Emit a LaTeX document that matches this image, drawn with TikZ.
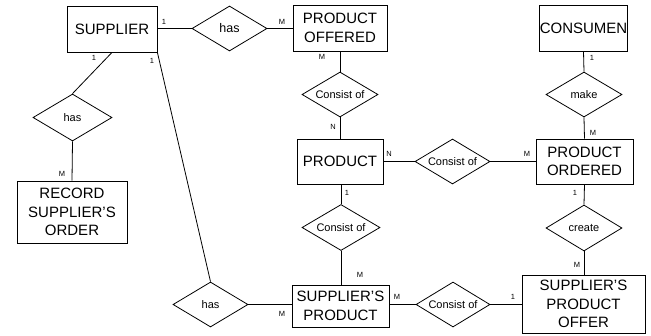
\documentclass[tikz,border=0pt]{standalone}
\usepackage{fontspec}
\setmainfont{Liberation Sans}
\usetikzlibrary{shapes.geometric}
\begin{document}
\begin{tikzpicture}[x=1pt,y=-1pt,
  line width=0.8pt,
  entity/.style={draw, rectangle, inner sep=0pt, align=center,
    font=\fontsize{15}{18.5}\selectfont},
  relation/.style={draw, diamond, inner sep=0pt, aspect=1.67,
    minimum width=76pt, minimum height=45pt,
    font=\fontsize{11}{13}\selectfont},
  card/.style={inner sep=0pt, font=\fontsize{7.5}{9}\selectfont}]
\useasboundingbox (0,0) rectangle (651,335);

% entities
\node[entity, minimum width=90pt, minimum height=46pt] (sup) at (112,29) {SUPPLIER};
\node[entity, minimum width=94pt, minimum height=46pt] (pof) at (340,28) {PRODUCT\\OFFERED};
\node[entity, minimum width=83pt, minimum height=46pt] (con) at (583.5,28) {CONSUMEN};
\node[entity, minimum width=86pt, minimum height=45pt] (prd) at (340,161.5) {PRODUCT};
\node[entity, minimum width=97pt, minimum height=45pt] (pord) at (584.5,161.5) {PRODUCT\\ORDERED};
\node[entity, minimum width=110pt, minimum height=62pt] (rec) at (72,212) {RECORD\\SUPPLIER'S\\ORDER};
\node[entity, minimum width=97pt, minimum height=42pt] (sp) at (340.5,306) {SUPPLIER'S\\PRODUCT};
\node[entity, minimum width=123pt, minimum height=58pt] (spo) at (583.5,304) {SUPPLIER'S\\PRODUCT\\OFFER};

% relationships
\node[relation, minimum width=75pt, font=\fontsize{12.5}{14}\selectfont] (hasA) at (229.5,28.5) {has};
\node[relation, minimum width=79pt, minimum height=47pt] (hasB) at (72.5,117.5) {has};
\node[relation, minimum width=75pt] (hasC) at (210.5,304.5) {has};
\node[relation] (conA) at (340,94.5) {Consist of};
\node[relation, minimum width=75pt] (conB) at (452.5,161.5) {Consist of};
\node[relation, minimum width=78pt, minimum height=46pt] (conC) at (341,227.5) {Consist of};
\node[relation, minimum width=74pt] (conD) at (453,304.5) {Consist of};
\node[relation] (make) at (584,94.5) {make};
\node[relation, minimum height=46pt] (crt) at (584,228) {create};

% connectors
\draw (sup.east |- hasA.west) -- (hasA.west);
\draw (hasA.east) -- (pof.west |- hasA.east);
\draw (sup.south) -- (hasB.north);
\draw (hasB.south) -- (rec.north);
\draw (sup.south east) -- (hasC.north);
\draw (hasC.east) -- (sp.west |- hasC.east);
\draw (pof.south) -- (conA.north);
\draw (conA.south) -- (prd.north);
\draw (prd.east |- conB.west) -- (conB.west);
\draw (conB.east) -- (pord.west |- conB.east);
\draw (con.south) -- (make.north);
\draw (make.south) -- (pord.north);
\draw (conC.north |- prd.south) -- (conC.north);
\draw (conC.south) -- (conC.south |- sp.north);
\draw (pord.south) -- (crt.north);
\draw (crt.south) -- (crt.south |- spo.north);
\draw (sp.east |- conD.west) -- (conD.west);
\draw (conD.east) -- (spo.west |- conD.east);

% cardinalities
\node[card] (c1) at (164,22) {1};
\node[card] (c2) at (282,22) {M};
\node[card] (c3) at (94,58) {1};
\node[card] (c4) at (152,61) {1};
\node[card] (c5) at (62,174) {M};
\node[card] (c6) at (322,57) {M};
\node[card] (c7) at (333,127) {N};
\node[card] (c8) at (389,154) {N};
\node[card] (c9) at (527,154) {M};
\node[card] (c10) at (592,58) {1};
\node[card] (c11) at (593,133) {M};
\node[card] (c12) at (347,193) {1};
\node[card] (c13) at (360,275) {M};
\node[card] (c14) at (575,193) {1};
\node[card] (c15) at (577,265) {M};
\node[card] (c16) at (397,297) {M};
\node[card] (c17) at (513,297) {1};
\node[card] (c18) at (282,314) {M};
\end{tikzpicture}
\end{document}
